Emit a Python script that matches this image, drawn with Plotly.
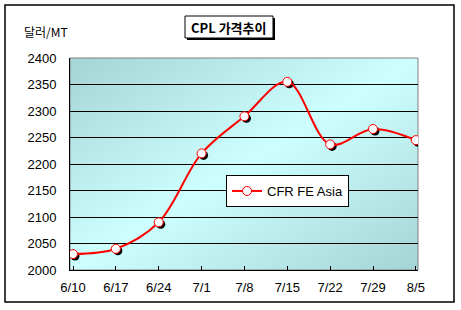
import zlib, struct, base64
import plotly.graph_objects as go

dates = ["6/10", "6/17", "6/24", "7/1", "7/8", "7/15", "7/22", "7/29", "8/5"]
prices = [2030, 2040, 2090, 2220, 2290, 2355, 2237, 2266, 2245]
series_name = "CFR FE Asia"
title_text = "CPL 가격추이"
unit_text = "달러/MT"

W, H = 461, 310
L, R, T, B = 70, 43, 58, 40
PW, PH = W - L - R, H - T - B

xr = [-0.07, 8.05]
yr = [2000, 2400]
dx = (xr[1] - xr[0]) / PW * 2
dy = (yr[1] - yr[0]) / PH * 2


def png_uri(w, h, fn):
    raw = bytearray()
    for j in range(h):
        raw.append(0)
        for i in range(w):
            raw.extend(fn(i, j))

    def chunk(tag, data):
        c = struct.pack('>I', len(data)) + tag + data
        return c + struct.pack('>I', zlib.crc32(tag + data) & 0xffffffff)

    png = (b'\x89PNG\r\n\x1a\n'
           + chunk(b'IHDR', struct.pack('>IIBBBBB', w, h, 8, 2, 0, 0, 0))
           + chunk(b'IDAT', zlib.compress(bytes(raw), 9))
           + chunk(b'IEND', b''))
    return 'data:image/png;base64,' + base64.b64encode(png).decode()


dark = (166, 214, 214)
light = (206, 255, 255)


def grad(i, j):
    u = i / (PW - 1)
    v = j / (PH - 1)
    t = min(1.0, abs(u + v - 1) * 1.05)
    return bytes(int(round(light[k] + (dark[k] - light[k]) * t)) for k in range(3))


bg_uri = png_uri(PW, PH, grad)

fig = go.Figure()
x_idx = list(range(len(dates)))

# shadow of markers
fig.add_trace(go.Scatter(
    x=x_idx, y=prices, mode="markers", xaxis="x", yaxis="y",
    marker=dict(size=9, color="black", line=dict(width=0)),
    showlegend=False, hoverinfo="skip"))

fig.add_trace(go.Scatter(
    x=x_idx, y=prices, mode="lines+markers", name=series_name,
    xaxis="x2", yaxis="y2",
    line=dict(color="#ff0000", width=2, shape="spline", smoothing=1),
    marker=dict(size=9, color="white", line=dict(color="#ff0000", width=1))))


def px_x(p):
    return (p - L) / PW


def px_y(p):
    return (H - B - p) / PH


shapes = [
    # outer frame
    dict(type="rect", xref="paper", yref="paper", x0=px_x(5), x1=px_x(454),
         y0=px_y(302), y1=px_y(5), line=dict(color="black", width=1.5)),
    # plot area gray border
    dict(type="rect", xref="paper", yref="paper", x0=0, x1=1, y0=0, y1=1,
         line=dict(color="#808080", width=1), layer="below"),
    # title shadow
    dict(type="rect", xref="paper", yref="paper", x0=px_x(187), x1=px_x(275),
         y0=px_y(40), y1=px_y(18), line=dict(width=0), fillcolor="black", layer="below"),
    # title box
    dict(type="rect", xref="paper", yref="paper", x0=px_x(185), x1=px_x(273),
         y0=px_y(38), y1=px_y(16), line=dict(color="black", width=1), fillcolor="white",
         layer="below"),
]

annotations = [
    dict(text="<b>" + title_text + "</b>", xref="paper", yref="paper",
         x=px_x(229), y=px_y(27), xanchor="center", yanchor="middle", showarrow=False,
         font=dict(family="Noto Sans CJK KR", size=13, color="black")),
    dict(text=unit_text, xref="paper", yref="paper",
         x=px_x(46), y=px_y(31), xanchor="center", yanchor="middle", showarrow=False,
         font=dict(family="Noto Sans CJK KR", size=12, color="black")),
]

fig.update_layout(
    width=W, height=H,
    margin=dict(l=L, r=R, t=T, b=B, pad=0),
    paper_bgcolor="white", plot_bgcolor="rgba(0,0,0,0)",
    font=dict(family="Liberation Sans, Arial", size=13, color="black"),
    xaxis=dict(range=[xr[0] - dx, xr[1] - dx], visible=False, fixedrange=True),
    yaxis=dict(range=[yr[0] + dy, yr[1] + dy], visible=False, fixedrange=True),
    xaxis2=dict(overlaying="x", anchor="y2", range=xr, tickvals=x_idx, ticktext=dates,
                ticks="inside", ticklen=4, tickcolor="black", showline=True,
                linecolor="black", linewidth=1, showgrid=False, zeroline=False,
                ticklabelstandoff=5, tickfont=dict(size=13)),
    yaxis2=dict(overlaying="y", anchor="x2", side="left", range=yr, dtick=50, tick0=2000,
                showline=True, linecolor="black", linewidth=1, showgrid=True,
                gridcolor="black", gridwidth=1, zeroline=False, ticks="",
                ticklabelstandoff=10, tickfont=dict(size=13)),
    legend=dict(x=px_x(226), y=px_y(175), xanchor="left", yanchor="top",
                bgcolor="white", bordercolor="black", borderwidth=1,
                font=dict(size=13), itemwidth=30),
    shapes=shapes, annotations=annotations,
    images=[dict(source=bg_uri, xref="paper", yref="paper", x=0, y=1,
                 sizex=1, sizey=1, xanchor="left", yanchor="top",
                 sizing="stretch", layer="below")],
)

fig.write_html("out.html")
